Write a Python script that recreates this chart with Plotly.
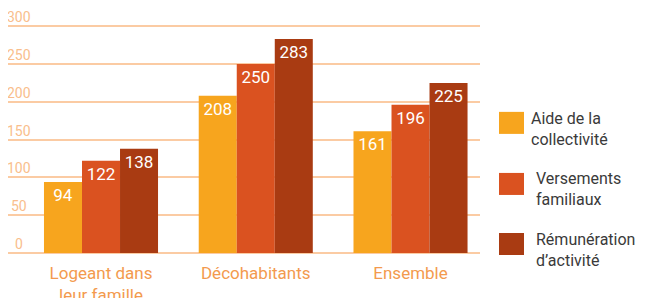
import plotly.graph_objects as go

categories = ["Logeant dans<br>leur famille", "Décohabitants", "Ensemble"]
series_names = ["Aide de la<br>collectivité", "Versements<br>familiaux", "Rémunération<br>d’activité"]
aide = [94, 208, 161]
versements = [122, 250, 196]
remuneration = [138, 283, 225]
y_ticks = [0, 50, 100, 150, 200, 250, 300]

colors = ["#F7A51E", "#DA5220", "#A93B12"]
values = [aide, versements, remuneration]

# page body has an 8px margin; work in page pixels and subtract it
OFF = 8
W, H = 647 - OFF, 298 - OFF
plot_left, plot_right = 8, 480          # page px
zero_px, top_val_px = 253, 24.2         # page px for y=0 and y=303
ml = plot_left - OFF
mr = W - (plot_right - OFF)
mt = top_val_px - OFF
mb = H - (zero_px - OFF)
pw, ph = W - ml - mr, H - mt - mb

def px_x(p):
    return (p - OFF - ml) / pw

def px_y(p):
    return (H - mb - (p - OFF)) / ph

FONT = "Roboto"

fig = go.Figure()
for name, vals, col in zip(series_names, values, colors):
    fig.add_trace(go.Bar(
        x=list(range(len(categories))), y=vals, name=name,
        marker=dict(color=col, line=dict(width=0)),
        text=[str(v) for v in vals], textposition="inside",
        insidetextanchor="end", textangle=0,
        textfont=dict(color="white", size=17, family=FONT),
        showlegend=False,
    ))

annotations = []
for t in y_ticks:
    annotations.append(dict(
        x=px_x(19), xref="paper", y=t, yref="y", text=str(t),
        showarrow=False, xanchor="center", yanchor="bottom", yshift=-1,
        font=dict(family=FONT, size=14, color="#F9BE8C"),
    ))

legend_sq = [(499, 112), (499, 173), (499, 233)]
legend_tx = [(529, 129), (534, 189), (534, 250)]
shapes = []
for (sx, sy), (tx, ty), name, col in zip(legend_sq, legend_tx, series_names, colors):
    shapes.append(dict(type="rect", xref="paper", yref="paper",
                       x0=px_x(sx), x1=px_x(sx + 25), y0=px_y(sy + 22), y1=px_y(sy),
                       fillcolor=col, line=dict(width=0)))
    annotations.append(dict(
        x=px_x(tx), xref="paper", y=px_y(ty), yref="paper", text=name,
        showarrow=False, xanchor="left", yanchor="middle", align="left",
        font=dict(family=FONT, size=16, color="#3A3A3A"),
    ))

fig.update_layout(
    width=W, height=H,
    margin=dict(l=ml, r=mr, t=mt, b=mb, pad=0, autoexpand=False),
    barmode="group", bargap=0.263, bargroupgap=0,
    plot_bgcolor="white", paper_bgcolor="white",
    font=dict(family=FONT),
    xaxis=dict(
        tickmode="array", tickvals=list(range(len(categories))), ticktext=categories,
        range=[-0.601, 2.449], showgrid=False, zeroline=False, showline=False,
        ticks="", ticklabelstandoff=8,
        tickfont=dict(family=FONT, size=17, color="#F39A4E"),
    ),
    yaxis=dict(
        range=[0, 303], tickvals=y_ticks, showticklabels=False,
        showgrid=True, gridcolor="#FBCBA3", gridwidth=2,
        zeroline=True, zerolinecolor="#FBCBA3", zerolinewidth=2, showline=False,
    ),
    annotations=annotations, shapes=shapes,
    uniformtext=dict(minsize=17, mode="show"),
)

fig.write_html("out.html")
